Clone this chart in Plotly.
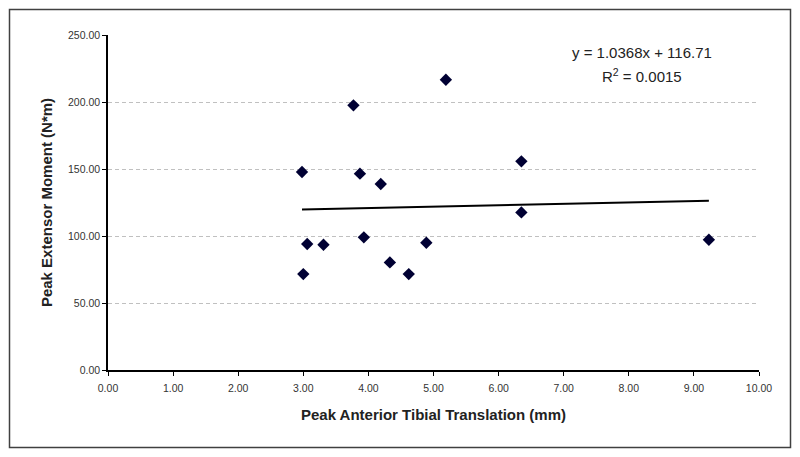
import plotly.graph_objects as go

# Data
translation_mm = [2.98, 3.77, 3.87, 4.19, 5.19, 6.35, 6.35, 3.00, 3.06, 3.31, 3.93, 4.33, 4.62, 4.89, 9.23]
extensor_moment = [147.8, 197.5, 146.5, 138.8, 216.6, 155.7, 117.6, 71.6, 94.0, 93.5, 99.0, 80.3, 71.6, 95.0, 97.2]

slope = 1.0368
intercept = 116.71
r_squared = 0.0015

x_ticks = [0, 1, 2, 3, 4, 5, 6, 7, 8, 9, 10]
y_ticks = [0, 50, 100, 150, 200, 250]

trend_x = [min(translation_mm), max(translation_mm)]
trend_y = [slope * v + intercept for v in trend_x]

fig = go.Figure()
fig.add_trace(go.Scatter(
    x=translation_mm, y=extensor_moment, mode="markers",
    marker=dict(symbol="diamond", size=9.5, color="#000033"),
    showlegend=False, hoverinfo="x+y"))
fig.add_trace(go.Scatter(
    x=trend_x, y=trend_y, mode="lines",
    line=dict(color="black", width=2), showlegend=False))

# page body adds an 8px offset, so the figure is sized to fill the rest
W, H = 792, 449
L, T = 100, 27
PW, PH = 651, 335
R, B = W - L - PW, H - T - PH

def px_x(p):
    return (p - L) / PW

def px_y(p):
    return (T + PH - p) / PH

fig.add_shape(type="rect", xref="paper", yref="paper",
              x0=px_x(1.5), x1=px_x(782.5), y0=px_y(439.5), y1=px_y(1.5),
              line=dict(color="#404040", width=1.5), layer="below")

ann_font = dict(family="Liberation Sans, Arial", size=15, color="#222222")
fig.add_annotation(xref="x", yref="y", x=8.2, y=237,
                   text=f"y = {slope}x + {intercept}",
                   showarrow=False, font=ann_font)
fig.add_annotation(xref="x", yref="y", x=8.2, y=220,
                   text=f"R<sup>2</sup> = {r_squared}",
                   showarrow=False, font=ann_font)

fig.update_layout(
    width=W, height=H,
    margin=dict(l=L, r=R, t=T, b=B),
    paper_bgcolor="white", plot_bgcolor="white",
    font=dict(family="Liberation Sans, Arial", color="#222222"),
    xaxis=dict(range=[0, 10], tickvals=x_ticks, tickformat=".2f",
               showgrid=False, zeroline=False,
               showline=True, linecolor="black", linewidth=1.5,
               ticks="outside", ticklen=4, tickcolor="black",
               ticklabelstandoff=4,
               tickfont=dict(size=10.5, color="#333333"),
               title=dict(text="<b>Peak Anterior Tibial Translation (mm)</b>",
                          font=dict(size=15, color="#222222"), standoff=16),
               automargin=False),
    yaxis=dict(range=[0, 250], tickvals=y_ticks, tickformat=".2f",
               showgrid=True, gridcolor="#c0c0c0", griddash="4px,3px", gridwidth=1,
               zeroline=False,
               showline=True, linecolor="black", linewidth=1.5,
               ticks="outside", ticklen=4, tickcolor="black",
               tickfont=dict(size=10.5, color="#333333"),
               title=dict(text="<b>Peak Extensor Moment (N*m)</b>",
                          font=dict(size=15, color="#222222"), standoff=12),
               automargin=False),
)

fig.write_html("out.html")
